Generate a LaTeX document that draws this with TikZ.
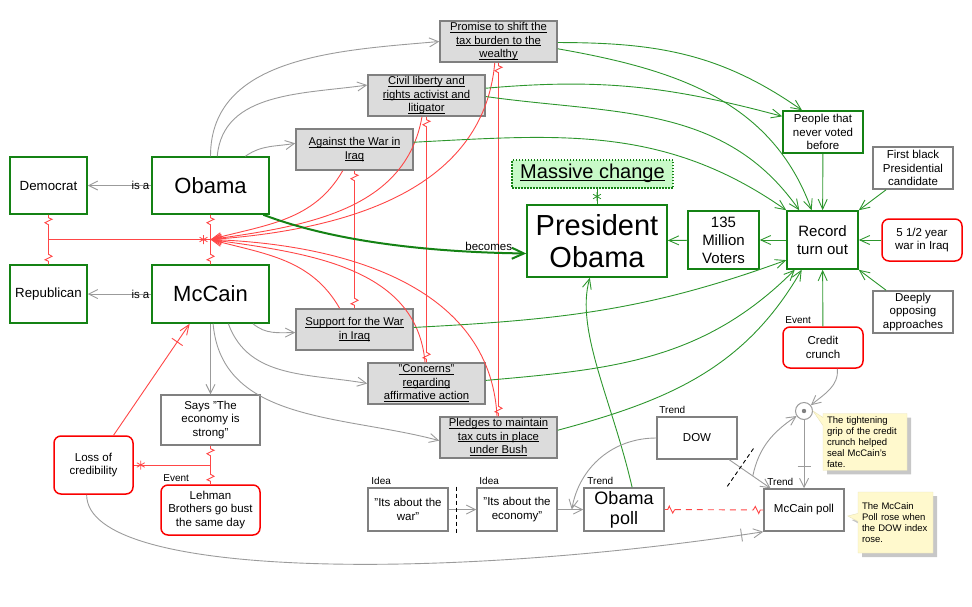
\documentclass[tikz,border=0pt]{standalone}
\usepackage{fontspec}
\setmainfont{Liberation Sans}
\usetikzlibrary{arrows.meta,calc,positioning,shapes.callouts,shadows,decorations.markings}

\definecolor{okgreen}{RGB}{20,130,20}
\definecolor{supgreen}{RGB}{45,150,45}
\definecolor{badred}{RGB}{250,0,0}
\definecolor{oppred}{RGB}{255,70,70}
\definecolor{boxgray}{RGB}{128,128,128}
\definecolor{lnkgray}{RGB}{155,155,155}
\definecolor{issuefill}{RGB}{220,220,220}
\definecolor{changefill}{RGB}{200,250,200}
\definecolor{notefill}{RGB}{255,249,205}
\definecolor{noteline}{RGB}{232,226,185}

\newcommand\fs[2]{\fontsize{#1}{#2}\selectfont}
\newcommand\ul[1]{\underline{\smash{#1}}\vphantom{Ay}}

\begin{document}
\begin{tikzpicture}[
        x=1pt, y=1pt,
        box/.style={rectangle, align=center, inner sep=0pt, line width=1.5pt,
            fill=white, font=\fs{11.5}{13.5}},
        pro/.style={box, draw=okgreen},
        plain/.style={box, draw=boxgray},
        issue/.style={box, draw=boxgray, fill=issuefill, font=\fs{11.3}{13.6},
            minimum width=117pt, minimum height=41pt},
        event/.style={box, draw=badred, rounded corners=7pt},
        tag/.style={font=\fs{10}{12}, inner sep=0pt},
        link/.style={draw=lnkgray, line width=0.9pt,
            -{Straight Barb[length=9pt,width=9pt]}},
        sup/.style={draw=supgreen, line width=0.9pt,
            -{Straight Barb[length=10pt,width=9pt]}},
        conv/.style={draw=oppred, line width=0.9pt,
            -{Straight Barb[length=10pt,width=8pt]}},
        zz/.style={to path={
            -- ($(\tikztostart)!3pt!(\tikztotarget)$)
            -- ($(\tikztostart)!5.7pt!38:(\tikztotarget)$)
            -- ($(\tikztostart)!8.7pt!-24:(\tikztotarget)$)
            -- ($(\tikztostart)!10pt!(\tikztotarget)$)
            #1 ($(\tikztotarget)!10pt!(\tikztostart)$)
            -- ($(\tikztotarget)!8.7pt!-24:(\tikztostart)$)
            -- ($(\tikztotarget)!5.7pt!38:(\tikztostart)$)
            -- ($(\tikztotarget)!3pt!(\tikztostart)$)
            -- (\tikztotarget)}},
        opp/.style={draw=oppred, line width=0.9pt, zz=--},
        oppends/.style={draw=oppred, line width=0.9pt, zz={}},
        ticked/.style={postaction={decorate, decoration={markings,
            mark=at position -22pt with {\draw[#1, -, line width=0.9pt] (0,-6.5) -- (0,6.5);}}}},
        cut/.style={draw=black, line width=0.9pt, dash pattern=on 4pt off 3pt},
        note/.style={rectangle callout, fill=notefill, draw=noteline, align=left,
            font=\fs{9.5}{11}, inner xsep=4pt, inner ysep=3pt,
            callout pointer width=8pt,
            drop shadow={shadow xshift=4pt, shadow yshift=-4pt, fill=black!22, opacity=1}},
        astr/.pic={\draw[line width=0.8pt] (0,-4.5) -- (0,4.5)
            (-3.9,-2.25) -- (3.9,2.25) (-3.9,2.25) -- (3.9,-2.25);}
    ]
        \useasboundingbox (0,0) rectangle (972,-606);

        % Parties and candidates
        \node[pro, minimum width=77pt, minimum height=57pt, font=\fs{13.3}{15}] (dem) at (48.5,-185.5) {Democrat};
        \node[pro, minimum width=117pt, minimum height=57pt, font=\fs{22}{24}] (obama) at (210.5,-185.5) {Obama};
        \node[pro, minimum width=77pt, minimum height=58pt, font=\fs{13.3}{15}] (rep) at (48.5,-294) {Republican};
        \node[pro, minimum width=117pt, minimum height=58pt, font=\fs{22}{24}] (mccain) at (210.5,-294) {McCain};

        % Issues
        \node[issue] (against) at (354.5,-149.5) {\ul{Against the War in}\\\ul{Iraq}};
        \node[issue] (civil) at (426.5,-95.5) {\ul{Civil liberty and}\\\ul{rights activist and}\\\ul{litigator}};
        \node[issue] (promise) at (498.5,-41.5) {\ul{Promise to shift the}\\\ul{tax burden to the}\\\ul{wealthy}};
        \node[issue] (support) at (354.5,-329.5) {\ul{Support for the War}\\\ul{in Iraq}};
        \node[issue] (concerns) at (426.5,-383.5) {\ul{"Concerns"}\\\ul{regarding}\\\ul{affirmative action}};
        \node[issue] (pledges) at (498.5,-437.5) {\ul{Pledges to maintain}\\\ul{tax cuts in place}\\\ul{under Bush}};

        % Outcome
        \node[box, draw=okgreen, fill=changefill, dash pattern=on 1.5pt off 1.5pt, minimum width=161pt, minimum height=28pt, font=\fs{20}{22}] (massive) at (592.5,-174) {\ul{Massive change}};
        \node[pro, minimum width=140pt, minimum height=72pt, font=\fs{29}{32}] (pres) at (597,-241) {President\\Obama};
        \node[pro, minimum width=71pt, minimum height=58pt, font=\fs{15}{18}] (voters) at (723.5,-240) {135\\Million\\Voters};
        \node[pro, minimum width=71pt, minimum height=58pt, font=\fs{15}{18}] (record) at (822.5,-240) {Record\\turn out};
        \node[pro, minimum width=80pt, minimum height=42pt] (never) at (823,-132) {People that\\never voted\\before};
        \node[plain, minimum width=80pt, minimum height=42pt] (firstblack) at (913,-168) {First black\\Presidential\\candidate};
        \node[event, minimum width=80pt, minimum height=42pt] (iraqwar) at (922,-240) {5 1/2 year\\war in Iraq};
        \node[plain, minimum width=80pt, minimum height=42pt] (deeply) at (913,-312) {Deeply\\opposing\\approaches};
        \node[event, minimum width=80pt, minimum height=41pt] (credit) at (823,-347.5) {Credit\\crunch};

        % Credibility
        \node[plain, minimum width=99pt, minimum height=50pt] (says) at (210.5,-420) {Says "The\\economy is\\strong"};
        \node[event, minimum width=79pt, minimum height=58pt] (loss) at (93.5,-465) {Loss of\\credibility};
        \node[event, minimum width=99pt, minimum height=50pt] (lehman) at (210.5,-510) {Lehman\\Brothers go bust\\the same day};

        % Ideas and trends
        \node[plain, minimum width=80pt, minimum height=43pt] (war) at (408,-509.5) {"Its about the\\war"};
        \node[plain, minimum width=80pt, minimum height=43pt] (economy) at (517,-509.5) {"Its about the\\economy"};
        \node[plain, minimum width=80pt, minimum height=43pt, font=\fs{18}{20}] (opoll) at (624,-509.5) {Obama\\poll};
        \node[plain, minimum width=80pt, minimum height=42pt] (dow) at (697,-438) {DOW};
        \node[plain, minimum width=80pt, minimum height=42pt] (mpoll) at (804,-510) {McCain poll};
        \node[circle, draw=lnkgray, line width=1pt, fill=white, minimum size=17pt, inner sep=0pt] (junc) at (804,-411) {};
        \fill[boxgray] (junc.center) circle (2.2pt);

        % Tags
        \node[tag, above right=2pt and 3pt of credit.north west] (credittag) {Event};
        \node[tag, above right=2pt and 3pt of lehman.north west] (lehmantag) {Event};
        \node[tag, above right=2pt and 4pt of war.north west] (wartag) {Idea};
        \node[tag, above right=2pt and 3pt of economy.north west] (ecotag) {Idea};
        \node[tag, above right=2pt and 4pt of opoll.north west] (opolltag) {Trend};
        \node[tag, above right=2pt and 3pt of dow.north west] (dowtag) {Trend};
        \node[tag, above right=2pt and 4pt of mpoll.north west] (mpolltag) {Trend};

        % Notes
        \node[note, text width=76pt, callout absolute pointer={(junc.east)}] (note1) at (865,-442) {The tightening\\grip of the credit\\crunch helped\\seal McCain's\\fate.};
        \node[note, text width=67pt, minimum height=61pt, callout absolute pointer={($(mpoll.east)+(3,-6)$)}] (note2) at (895.5,-522.5) {The McCain\\Poll rose when\\the DOW index\\rose.};

        % is-a links
        \draw[link] (obama) -- node[pos=.17, inner sep=0pt, font=\fs{11.5}{13.5}] (isa1) {is a} (dem);
        \draw[link] (mccain) -- node[pos=.17, inner sep=0pt, font=\fs{11.5}{13.5}] (isa2) {is a} (rep);

        % Positions of each candidate
        \draw[link] (obama.north) to[out=90, in=185] (promise.west);
        \draw[link] (obama.77) to[out=85, in=188] (civil.170);
        \draw[link] (obama.40) to[out=35, in=190] (against.174);
        \draw[link] (mccain.-35) to[out=-40, in=180] (support.183);
        \draw[link] (mccain.-59) to[out=-70, in=170] (concerns.180);
        \draw[link] (mccain.-85) to[out=-85, in=165] (pledges.183);
        \draw[link] (mccain) -- (says);

        % Opposing pairs
        \draw[opp] (dem.south) to (rep.north);
        \draw[opp] (obama.south) to (mccain.north);
        \draw[opp] (against.south) to (support.north);
        \draw[opp] (civil.south) to (concerns.north);
        \draw[opp] (promise.south) to (pledges.north);
        \draw[opp] (says.south) to (lehman.north);
        \draw[oppends] (opoll.east) to (mpoll.west);
        \draw[oppred, line width=0.9pt, dash pattern=on 6pt off 5pt, shorten <=10pt, shorten >=10pt] (opoll.east) -- (mpoll.west);

        \coordinate (pmid) at ($(dem.south)!.5!(rep.north)$);
        \coordinate (omid) at ($(obama.south)!.5!(mccain.north)$);
        \coordinate (smid) at ($(says.south)!.5!(lehman.north)$);
        \draw[oppred, line width=0.9pt] (pmid) -- (omid);
        \draw[oppred, line width=0.9pt] (smid) -- (loss.east);
        \pic[color=oppred] at ($(omid)+(-7,0)$) {astr};
        \pic[color=oppred] at ($(loss.east)+(7,0)$) {astr};

        % Issues feeding the contest
        \draw[conv] (against.241) to[out=-120, in=15] (omid);
        \draw[conv] (civil.258) to[out=-100, in=8] (omid);
        \draw[conv] (promise.260) to[out=-95, in=4] (omid);
        \draw[conv] (support.125) to[out=120, in=-15] (omid);
        \draw[conv] (concerns.94) to[out=95, in=-8] (omid);
        \draw[conv] (pledges.94) to[out=93, in=-2] (omid);
        \draw[conv, ticked=oppred] (loss.56) -- (mccain.235);
        \draw[link, ticked=lnkgray] (loss.257) .. controls (87,-580) and (450,-580) .. (mpoll.south west);

        % Road to the presidency
        \draw[okgreen, line width=2pt, -{Straight Barb[length=12pt,width=11pt]}] (obama.-29) .. controls (330,-240) and (420,-252) .. node[pos=.88, above, inner sep=0.5pt, font=\fs{11.5}{13.5}, text=black] (becomes) {becomes} (pres.190);
        \draw[supgreen, line width=0.9pt] (pres.north) -- coordinate (mch) (pres.north |- massive.south);
        \pic[color=supgreen] at (mch) {astr};
        \draw[sup] (voters) -- (pres);
        \draw[sup] (record) -- (voters);
        \draw[sup] (iraqwar) -- (record);
        \draw[sup] (credit) -- (record);
        \draw[sup] (never) -- (record);
        \draw[sup] (deeply.141) -- (record.south east);
        \draw[sup] (firstblack.219) -- (record.north east);
        \draw[sup] (promise.-1) to[out=0, in=145] (never.134);
        \draw[sup] (promise.-7) to[out=-10, in=110] (record.110);
        \draw[sup] (civil.7) to[out=5, in=165] (never.159);
        \draw[sup] (civil.-1) to[out=-8, in=125] (record.128);
        \draw[sup] (against.7) to[out=3, in=145] (record.north west);
        \draw[sup] (support.2) to[out=3, in=200] (record.209);
        \draw[sup] (concerns.3) to[out=5, in=225] (record.227);
        \draw[sup] (pledges.7) to[out=15, in=240] (record.235);
        \draw[sup] (opoll.70) .. controls (612,-400) and (575,-330) .. (pres.259);

        % Polls
        \draw[link] (war) -- coordinate[pos=.28] (cutw) (economy);
        \draw[cut] ($(cutw)!23pt!90:(economy)$) -- ($(cutw)!23pt!-90:(economy)$);
        \draw[link] (economy) -- coordinate[pos=.55] (eo) (opoll);
        \draw[link] (dow.west) to[out=180, in=80] (eo);
        \draw[link] (dow.-34) -- coordinate[pos=.27] (cutd) coordinate[pos=.57] (dm) (mpoll.147);
        \draw[cut] ($(cutd)!23pt!90:(mpoll.147)$) -- ($(cutd)!23pt!-90:(mpoll.147)$);
        \draw[link] (credit.-56) to[out=-85, in=40] (junc);
        \draw[link] (dm) to[out=78, in=214] (junc);
        \draw[link, ticked=lnkgray] (junc) -- (mpoll);
    \end{tikzpicture}
\end{document}
